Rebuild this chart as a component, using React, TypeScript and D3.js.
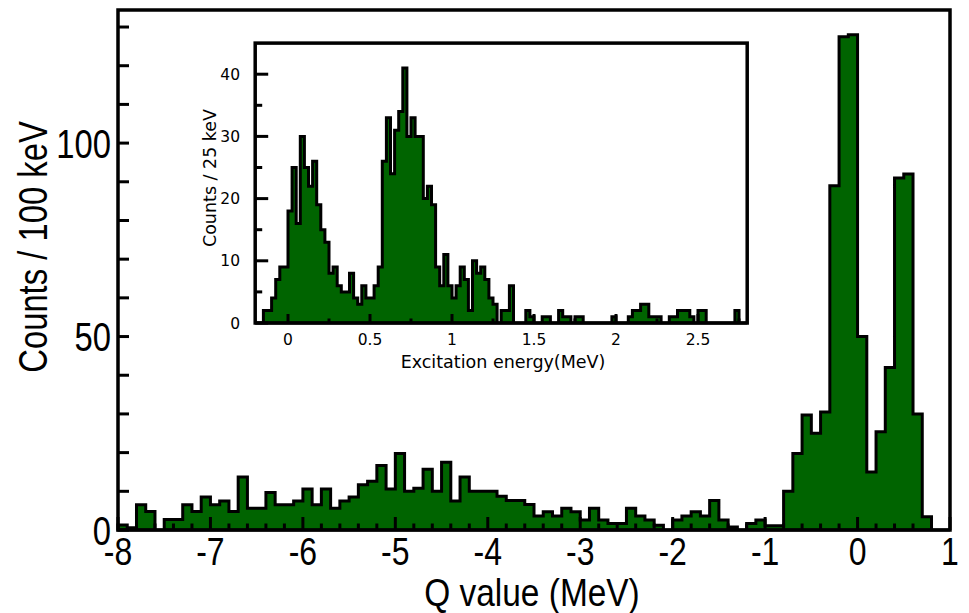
import React from 'react';
import * as d3 from 'd3';

// Main spectrum: 100 keV bins from -8 MeV to 1 MeV
const mainBinStart = -8;
const mainBinWidth = 0.1;
const mainCounts = [
  1.3, 0.6, 6.5, 4.8, 0, 2.7, 2.7, 6.5, 4.8, 8.5,
  6.5, 7.5, 4.8, 13.7, 5.6, 5.6, 9.7, 6.5, 6.5, 7.5,
  10.6, 6.5, 10.6, 5.6, 7.5, 8.5, 11.7, 12.6, 16.7, 10.6,
  19.8, 10, 10.8, 15.7, 10, 17.5, 7.5, 13.7, 10, 10,
  10, 8.7, 7.6, 7.6, 6.6, 3.6, 4.7, 3.6, 5.6, 4.7,
  2.6, 5.6, 2.6, 1.7, 1.7, 5.6, 3.6, 2.6, 1.2, 0,
  2.6, 3.6, 4.7, 3.6, 7.6, 2.6, 0.8, 0, 1.7, 2.6,
  1.1, 1.1, 10, 19.8, 29.7, 25, 30.5, 89, 127.5, 128,
  50, 15, 25.4, 42, 91, 92, 30, 3.4, 0, 0,
];

// Inset spectrum: 25 keV bins from -0.2 MeV to 2.8 MeV
const insetBinStart = -0.2;
const insetBinWidth = 0.025;
const insetCounts = [
  0, 0, 2, 2, 4, 7, 9, 9, 18, 25,
  16, 30, 25, 22, 26, 19, 15, 13, 8, 9,
  6, 5, 5, 8, 4, 3, 6, 4, 4, 6,
  9, 26, 33, 24, 31, 34, 41, 30, 33, 30,
  30, 20, 22, 19, 9, 6, 11, 6, 4, 6,
  9, 7, 2, 10, 8, 9, 7, 4, 3, 0,
  2, 2, 6, 0, 0, 0, 2, 1, 0, 0,
  1, 1, 0, 0, 2, 1, 1, 0, 1, 1,
  0, 0, 0, 0, 0, 0, 0, 1, 0, 0,
  0, 1, 2, 2, 3, 3, 1, 1, 1, 0,
  0, 1, 1, 2, 2, 2, 1, 0, 2, 2,
  0, 0, 0, 0, 0, 0, 0, 2, 0, 0,
];

const mainXTickLabels = [-8, -7, -6, -5, -4, -3, -2, -1, 0, 1];
const mainYTickLabels = [0, 50, 100];
const insetXTickLabels = [0, 0.5, 1, 1.5, 2, 2.5];
const insetYTickLabels = [0, 10, 20, 30, 40];

const W = 969;
const H = 613;
const GREEN = '#006400';
const MAIN_FONT = '"Liberation Sans", Arial, Helvetica, sans-serif';
const NARROW = 0.82;
const INSET_FONT = '"DejaVu Sans", Verdana, sans-serif';

function histPath(
  counts: number[],
  start: number,
  width: number,
  x: d3.ScaleLinear<number, number>,
  y: d3.ScaleLinear<number, number>
) {
  const pts: [number, number][] = [];
  pts.push([x(start), y(0)]);
  counts.forEach((c, i) => {
    const x0 = x(start + i * width);
    const x1 = x(start + (i + 1) * width);
    pts.push([x0, y(c)], [x1, y(c)]);
  });
  pts.push([x(start + counts.length * width), y(0)]);
  return (d3.line()(pts) || '') + 'Z';
}

function range(a: number, b: number, step: number) {
  const out: number[] = [];
  const n = Math.round((b - a) / step);
  for (let i = 0; i <= n; i++) out.push(+(a + i * step).toFixed(6));
  return out;
}

function NarrowText(props: {
  x: number;
  y: number;
  anchor: 'start' | 'middle' | 'end';
  size: number;
  rotate?: number;
  squeeze?: number;
  children: React.ReactNode;
}) {
  const { x, y, anchor, size, rotate, squeeze, children } = props;
  const k = squeeze ?? NARROW;
  const tr = `translate(${x},${y})${rotate ? ` rotate(${rotate})` : ''} scale(${k},1)`;
  return (
    <text transform={tr} x={0} y={0} textAnchor={anchor} fontFamily={MAIN_FONT} fontSize={size} fill="#000">
      {children}
    </text>
  );
}

export default function App() {
  // main axes
  const x = d3.scaleLinear().domain([-8, 1]).range([118, 950]);
  const y = d3.scaleLinear().domain([0, 134.4]).range([530, 10]);
  // inset axes
  const xi = d3.scaleLinear().domain([-0.2, 2.8]).range([255.2, 747.2]);
  const yi = d3.scaleLinear().domain([0, 45]).range([323, 43.1]);

  const mainMinorX = range(-8, 1, 0.2).filter((v) => Math.abs(v - Math.round(v)) > 1e-6);
  const mainYTicks = range(0, 130, 10);
  const insetXMajor = range(0, 2.5, 0.5);
  const insetXMinor = range(0.25, 2.75, 0.5);
  const insetYMajor = range(0, 40, 10);
  const insetYMinor = range(5, 45, 10).filter((v) => v < 45);

  const mainFill = histPath(mainCounts, mainBinStart, mainBinWidth, x, y);
  const insetFill = histPath(insetCounts, insetBinStart, insetBinWidth, xi, yi);

  return (
    <svg
      width={W}
      height={H}
      viewBox={`0 0 ${W} ${H}`}
      style={{ position: 'absolute', left: 0, top: 0, background: '#fff' }}
    >
      <rect x={0} y={0} width={W} height={H} fill="#fff" />

      {/* main histogram */}
      <path d={mainFill} fill={GREEN} stroke="#000" strokeWidth={3} strokeLinejoin="miter" />

      {/* main ticks */}
      {mainYTicks.map((t) => (
        <line key={'my' + t} x1={x(-8)} x2={x(-8) + 11} y1={y(t)} y2={y(t)} stroke="#000" strokeWidth={3} />
      ))}
      {mainXTickLabels.map((t) => (
        <line key={'mx' + t} x1={x(t)} x2={x(t)} y1={y(0)} y2={y(0) - 13} stroke="#000" strokeWidth={3} />
      ))}
      {mainMinorX.map((t) => (
        <line key={'mxm' + t} x1={x(t)} x2={x(t)} y1={y(0)} y2={y(0) - 6.5} stroke="#000" strokeWidth={3} />
      ))}

      {/* main frame */}
      <rect x={x(-8)} y={y(134.4)} width={x(1) - x(-8)} height={y(0) - y(134.4)} fill="none" stroke="#000" strokeWidth={3.5} />

      {/* main tick labels */}
      {mainYTickLabels.map((t) => (
        <NarrowText key={'myl' + t} x={111} y={y(t) + 14.5} anchor="end" size={40}>
          {t}
        </NarrowText>
      ))}
      {mainXTickLabels.map((t) => (
        <NarrowText key={'mxl' + t} x={x(t)} y={565} anchor="middle" size={39}>
          {t}
        </NarrowText>
      ))}

      {/* main axis titles */}
      <NarrowText x={532} y={606} anchor="middle" size={38} squeeze={0.88}>
        Q value (MeV)
      </NarrowText>
      <NarrowText x={47} y={247} anchor="middle" size={40} rotate={-90}>
        Counts / 100 keV
      </NarrowText>

      {/* inset */}
      <rect x={xi(-0.2)} y={yi(45)} width={xi(2.8) - xi(-0.2)} height={yi(0) - yi(45)} fill="#fff" />
      <path d={insetFill} fill={GREEN} stroke="#000" strokeWidth={3} strokeLinejoin="miter" />
      {insetYMajor.map((t) => (
        <line key={'iy' + t} x1={xi(-0.2)} x2={xi(-0.2) + 13} y1={yi(t)} y2={yi(t)} stroke="#000" strokeWidth={3} />
      ))}
      {insetYMinor.map((t) => (
        <line key={'iym' + t} x1={xi(-0.2)} x2={xi(-0.2) + 7} y1={yi(t)} y2={yi(t)} stroke="#000" strokeWidth={3} />
      ))}
      {insetXMajor.map((t) => (
        <line key={'ix' + t} x1={xi(t)} x2={xi(t)} y1={yi(0)} y2={yi(0) - 9} stroke="#000" strokeWidth={3} />
      ))}
      {insetXMinor.map((t) => (
        <line key={'ixm' + t} x1={xi(t)} x2={xi(t)} y1={yi(0)} y2={yi(0) - 4.5} stroke="#000" strokeWidth={3} />
      ))}
      <rect x={xi(-0.2)} y={yi(45)} width={xi(2.8) - xi(-0.2)} height={yi(0) - yi(45)} fill="none" stroke="#000" strokeWidth={3.5} />

      {insetYTickLabels.map((t) => (
        <text key={'iyl' + t} x={240} y={yi(t) + 5.5} textAnchor="end" fontFamily={INSET_FONT} fontSize={15.5} fill="#000">
          {t}
        </text>
      ))}
      {insetXTickLabels.map((t) => (
        <text key={'ixl' + t} x={xi(t)} y={345} textAnchor="middle" fontFamily={INSET_FONT} fontSize={15.5} fill="#000">
          {t}
        </text>
      ))}
      <text x={503} y={368} textAnchor="middle" fontFamily={INSET_FONT} fontSize={17.5} fill="#000">
        Excitation energy(MeV)
      </text>
      <text
        transform="translate(216,178) rotate(-90)"
        textAnchor="middle"
        fontFamily={INSET_FONT}
        fontSize={17.5}
        fill="#000"
      >
        Counts / 25 keV
      </text>
    </svg>
  );
}
